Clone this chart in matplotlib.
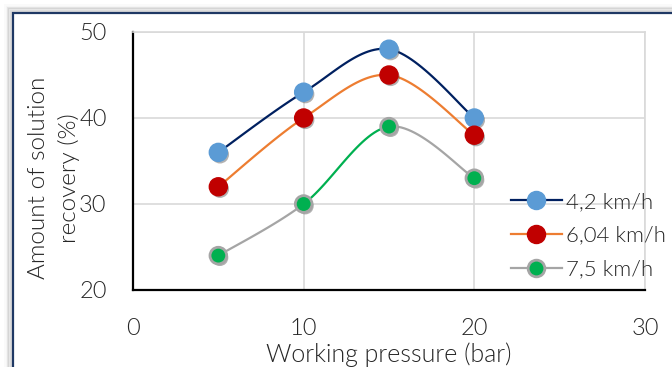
import numpy as np
import matplotlib
matplotlib.use("Agg")
import matplotlib.pyplot as plt
from matplotlib import patheffects as pe
from matplotlib import font_manager as fm
from matplotlib.lines import Line2D
from matplotlib.patches import Rectangle

# pick a light-weight sans font if available
family, weight = 'Lato', 'normal'
for name in ['Lato', 'Open Sans', 'Roboto', 'Noto Sans', 'Inter']:
    ws = [f.weight for f in fm.fontManager.ttflist if f.name == name and f.style == 'normal']
    if 300 in ws or 'light' in ws:
        family, weight = name, 300
        break
plt.rcParams['font.family'] = [family, 'DejaVu Sans']
plt.rcParams['font.weight'] = weight
plt.rcParams['axes.labelweight'] = weight

pressure = [5, 10, 15, 20]
s42 = [36, 43, 48, 40]
s604 = [32, 40, 45, 38]
s75 = [24, 30, 39, 33]
labels = ['4,2 km/h', '6,04 km/h', '7,5 km/h']
xticks = [0, 10, 20, 30]
yticks = [20, 30, 40, 50]


def smooth(x, y, n=30):
    x = np.asarray(x, float); y = np.asarray(y, float)
    xs, ys = [], []
    for i in range(len(x) - 1):
        p0 = np.array([x[max(i - 1, 0)], y[max(i - 1, 0)]])
        p1 = np.array([x[i], y[i]])
        p2 = np.array([x[i + 1], y[i + 1]])
        p3 = np.array([x[min(i + 2, len(x) - 1)], y[min(i + 2, len(x) - 1)]])
        c1 = p1 + (p2 - p0) / 6.0
        c2 = p2 - (p3 - p1) / 6.0
        t = np.linspace(0, 1, n)[:, None]
        pts = ((1 - t) ** 3) * p1 + 3 * ((1 - t) ** 2) * t * c1 + 3 * (1 - t) * t ** 2 * c2 + t ** 3 * p2
        xs.append(pts[:, 0]); ys.append(pts[:, 1])
    return xs, ys


W, H = 672, 367
fig = plt.figure(figsize=(W / 100, H / 100), dpi=100)

# outer frame with shadow
for k, a in enumerate([0.14, 0.10, 0.07, 0.04, 0.02]):
    off = 10.5 - k * 1.3
    fig.add_artist(Rectangle((off / W, -0.5), 2, 0.5 + 1 - off / H, transform=fig.transFigure,
                             fill=False, lw=1.4, ec=(0, 0, 0, a)))
fig.add_artist(Rectangle((12.5 / W, -0.5), 2, 0.5 + 1 - 12.5 / H, transform=fig.transFigure,
                         fill=False, lw=1.6, ec='#1F3864'))

ax = fig.add_axes([133 / W, 1 - 290 / H, 512 / W, 258 / H])
ax.set_xlim(0, 30)
ax.set_ylim(20, 50)
ax.set_xticks(xticks)
ax.set_yticks(yticks)
ax.grid(True, color='#D9D9D9', lw=1.2)
ax.set_axisbelow(True)
for s in ['top', 'right']:
    ax.spines[s].set_color('#D9D9D9')
    ax.spines[s].set_linewidth(1.2)
for s in ['left', 'bottom']:
    ax.spines[s].set_color('black')
    ax.spines[s].set_linewidth(1.6)
ax.tick_params(length=0, labelsize=17, colors='#262626')
ax.tick_params(axis='y', pad=19)
ax.tick_params(axis='x', pad=20)

shadow = [pe.SimplePatchShadow(offset=(1.2, -1.5), shadow_rgbFace='#555555', alpha=0.45), pe.Normal()]

# 4,2 km/h
xs, ys = smooth(pressure, s42)
for a, b in zip(xs, ys):
    ax.plot(a, b, color='#002060', lw=1.6, zorder=3)
ax.plot(pressure, s42, ls='none', marker='o', ms=13, mfc='#5B9BD5', mec='#5B9BD5', zorder=5,
        path_effects=shadow)

# 6,04 km/h
xs, ys = smooth(pressure, s604)
for a, b in zip(xs, ys):
    ax.plot(a, b, color='#ED7D31', lw=1.6, zorder=3)
ax.plot(pressure, s604, ls='none', marker='o', ms=13, mfc='#C00000', mec='#C00000', zorder=5,
        path_effects=shadow)

# 7,5 km/h
xs, ys = smooth(pressure, s75)
for i, (a, b) in enumerate(zip(xs, ys)):
    ax.plot(a, b, color='#00B050' if i == 1 else '#A5A5A5', lw=1.6, zorder=3)
ax.plot(pressure, s75, ls='none', marker='o', ms=12, mfc='#00B050', mec='#A5A5A5', mew=2, zorder=5,
        path_effects=shadow)

handles = [
    Line2D([], [], color='#002060', lw=1.6, marker='o', ms=13, mfc='#5B9BD5', mec='#5B9BD5'),
    Line2D([], [], color='#ED7D31', lw=1.6, marker='o', ms=13, mfc='#C00000', mec='#C00000'),
    Line2D([], [], color='#A5A5A5', lw=1.6, marker='o', ms=12, mfc='#00B050', mec='#A5A5A5', mew=2),
]
fig.legend(handles, labels, loc='upper left', bbox_to_anchor=(502 / W, 1 - 183 / H),
           frameon=False, fontsize=16, labelspacing=0.62, handlelength=2.3, handletextpad=0.2,
           labelcolor='#262626', borderaxespad=0)

ax.set_xlabel('Working pressure (bar)', fontsize=18, color='#262626')
ax.xaxis.label.set_va('bottom')
ax.xaxis.set_label_coords(389 / W, 0 / H, transform=fig.transFigure)

fig.text(54 / W, 1 - 178 / H, 'Amount of solution\nrecovery (%)', rotation=90, ha='center', va='center',
         multialignment='center', fontsize=17.5, color='#262626', linespacing=1.45)

fig.savefig('out.png', dpi=100)
